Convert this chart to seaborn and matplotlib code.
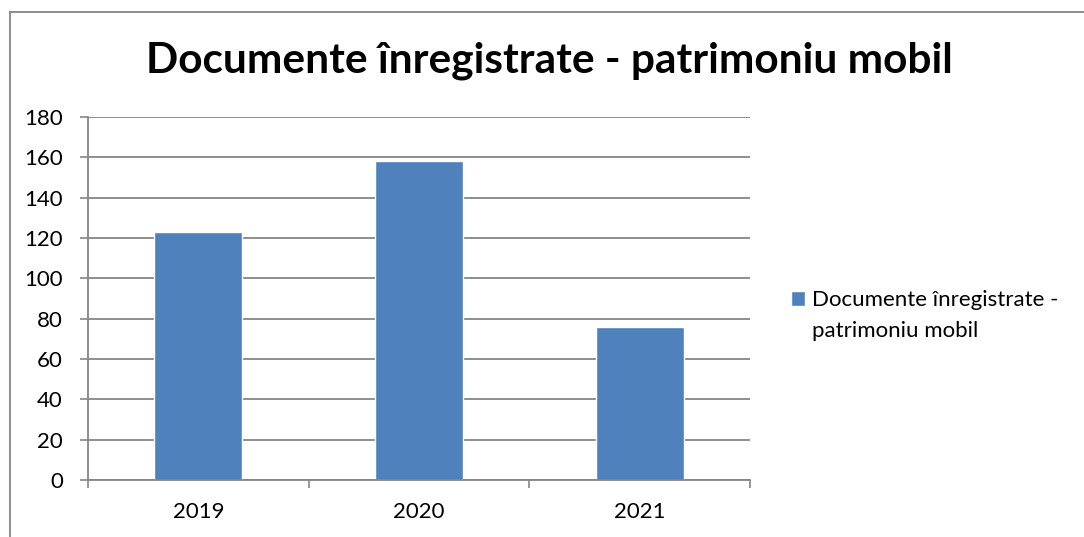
import matplotlib
matplotlib.use("Agg")
import matplotlib.pyplot as plt
import seaborn as sns
import pandas as pd
from matplotlib.lines import Line2D

# Data
years = ["2019", "2020", "2021"]
documents = [123, 158, 76]
series_name = "Documente înregistrate - patrimoniu mobil"
legend_lines = ["Documente înregistrate -", "patrimoniu mobil"]
y_ticks = [0, 20, 40, 60, 80, 100, 120, 140, 160, 180]

BAR_COLOR = "#4F81BD"
GRID_COLOR = "#868686"


def make_chart():
    sns.set_style("white")
    plt.rcParams["font.family"] = ["Lato", "DejaVu Sans"]
    plt.rcParams["text.color"] = "black"
    plt.rcParams["xtick.color"] = "black"
    plt.rcParams["ytick.color"] = "black"

    df = pd.DataFrame({"An": years, "Documente": documents})

    fig = plt.figure(figsize=(10.84, 5.37), dpi=100)
    ax = fig.add_axes([88 / 1084, 1 - 480 / 537, 662 / 1084, 363 / 537])

    sns.barplot(data=df, x="An", y="Documente", color=BAR_COLOR,
                width=0.4, saturation=1, ax=ax, label=legend_lines[0])
    ax.set_xlim(-0.5, 2.5)
    ax.set_ylim(0, 180)
    ax.set_xlabel("")
    ax.set_ylabel("")

    # horizontal grid
    ax.set_yticks(y_ticks)
    ax.yaxis.grid(True, color=GRID_COLOR, linewidth=1.3)
    ax.set_axisbelow(True)
    ax.tick_params(axis="y", length=6, width=1.2, color=GRID_COLOR,
                   labelcolor="black", labelsize=16, pad=12, left=True)

    # x ticks at category boundaries, labels in between
    ax.set_xticks([-0.5, 0.5, 1.5, 2.5])
    ax.set_xticklabels([])
    ax.set_xticks([0, 1, 2], minor=True)
    ax.set_xticklabels(years, minor=True)
    ax.tick_params(axis="x", which="major", length=6, width=1.2,
                   color=GRID_COLOR, bottom=True)
    ax.tick_params(axis="x", which="minor", length=0, labelsize=16,
                   labelcolor="black", pad=16)

    for side in ["top", "right"]:
        ax.spines[side].set_visible(False)
    for side in ["left", "bottom"]:
        ax.spines[side].set_color(GRID_COLOR)
        ax.spines[side].set_linewidth(1.3)

    fig.text(549 / 1084, 1 - 61 / 537, series_name, ha="center", va="center",
             fontsize=30.5, fontweight="bold", color="black")

    ax.legend(loc="center left", bbox_to_anchor=(791 / 1084, 1 - 300 / 537),
              bbox_transform=fig.transFigure, frameon=False, fontsize=16,
              handlelength=0.65, handleheight=0.65, handletextpad=0.3,
              borderpad=0, borderaxespad=0)
    fig.text(812 / 1084, 1 - 331 / 537, legend_lines[1], ha="left",
             va="center", fontsize=16, color="black")

    # outer chart frame (top and left edges visible)
    fig.add_artist(Line2D([10 / 1084, 10 / 1084], [0, 1 - 11.5 / 537],
                          transform=fig.transFigure, color=GRID_COLOR, lw=1.3))
    fig.add_artist(Line2D([10 / 1084, 1], [1 - 11.5 / 537, 1 - 11.5 / 537],
                          transform=fig.transFigure, color=GRID_COLOR, lw=1.3))

    fig.savefig("out.png", dpi=100)
    plt.close(fig)


if __name__ == "__main__":
    make_chart()
